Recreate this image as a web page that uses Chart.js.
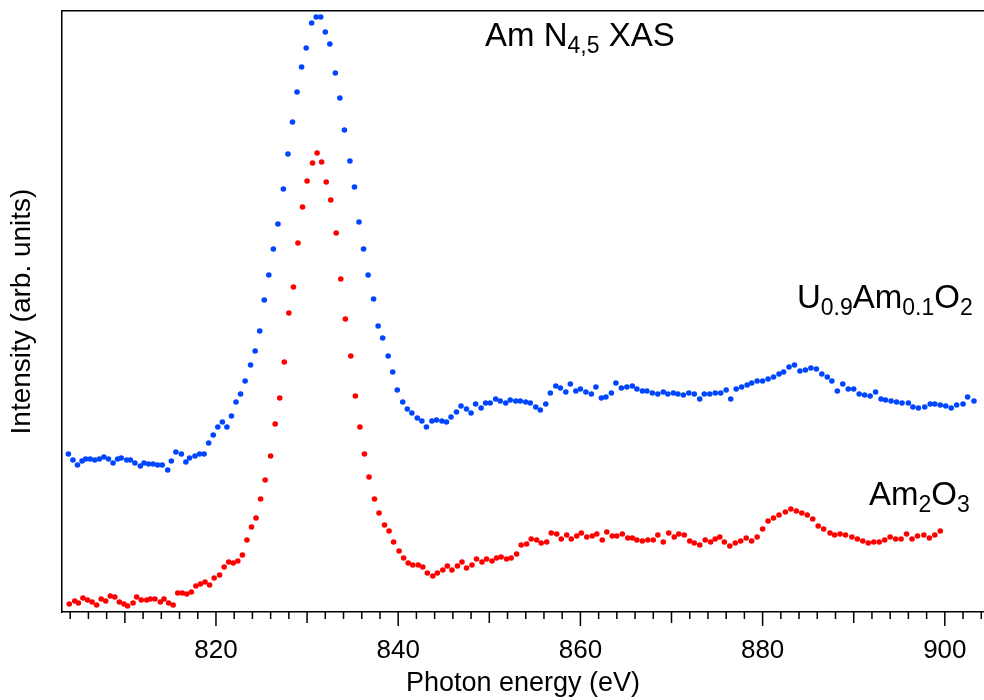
<!DOCTYPE html>
<html><head><meta charset="utf-8">
<script src="https://cdn.jsdelivr.net/npm/chart.js@4.4.1/dist/chart.umd.min.js"></script>
<style>html,body{margin:0;padding:0;background:#fff;} #c{display:block;}</style>
</head><body>
<canvas id="c" width="984" height="700"></canvas>
<script>
// ---- data ----
const blueEnergy = [
803.8,804.3,804.8,805.3,805.7,806.2,806.7,807.2,807.7,808.2,
808.7,809.2,809.6,810.2,810.6,811.1,811.7,812.1,812.6,813.1,
813.6,814.1,814.7,815.1,815.6,816.2,816.7,817.1,817.7,818.2,
818.7,819.2,819.7,820.2,820.7,821.2,821.7,822.2,822.7,823.2,
823.8,824.3,824.8,825.3,825.8,826.3,826.8,827.4,827.9,828.4,
828.9,829.4,829.9,830.5,831.0,831.5,832.0,832.5,833.1,833.6,
834.1,834.7,835.2,835.7,836.2,836.7,837.3,837.8,838.3,838.9,
839.4,839.9,840.5,841.0,841.5,842.1,842.6,843.1,843.7,844.2,
844.8,845.3,845.8,846.4,846.9,847.5,848.0,848.5,849.1,849.6,
850.1,850.7,851.2,851.8,852.3,852.9,853.4,854.0,854.5,855.1,
855.6,856.2,856.7,857.3,857.8,858.4,858.9,859.5,860.0,860.6,
861.2,861.7,862.3,862.8,863.4,863.9,864.5,865.1,865.7,866.2,
866.8,867.3,867.9,868.5,869.1,869.6,870.2,870.7,871.3,871.9,
872.5,873.1,873.6,874.2,874.8,875.4,876.0,876.5,877.1,877.7,
878.3,878.8,879.4,880.0,880.6,881.2,881.8,882.3,882.9,883.5,
884.1,884.7,885.3,885.9,886.5,887.1,887.6,888.2,888.8,889.4,
890.0,890.6,891.2,891.8,892.4,893.0,893.5,894.1,894.7,895.3,
896.0,896.5,897.1,897.8,898.4,898.9,899.5,900.1,900.7,901.3,
902.0,902.5,903.2];
const blueIntensity = [
1.58,1.52,1.47,1.51,1.53,1.53,1.52,1.53,1.55,1.53,
1.49,1.53,1.54,1.52,1.52,1.49,1.46,1.49,1.48,1.48,
1.47,1.47,1.42,1.51,1.60,1.58,1.50,1.54,1.56,1.58,
1.58,1.69,1.77,1.85,1.90,1.85,1.96,2.10,2.18,2.31,
2.47,2.61,2.81,3.12,3.37,3.63,3.88,4.23,4.58,4.90,
5.20,5.45,5.64,5.89,5.95,5.95,5.80,5.68,5.39,5.14,
4.82,4.51,4.25,3.90,3.63,3.37,3.13,2.86,2.74,2.56,
2.40,2.22,2.10,2.03,1.99,1.94,1.91,1.85,1.91,1.92,
1.91,1.90,1.95,2.00,2.06,2.03,1.99,2.08,2.04,2.09,
2.09,2.13,2.11,2.09,2.12,2.11,2.11,2.10,2.09,2.05,
2.02,2.08,2.19,2.26,2.24,2.20,2.28,2.21,2.23,2.20,
2.18,2.25,2.14,2.15,2.19,2.29,2.24,2.25,2.26,2.23,
2.21,2.21,2.19,2.18,2.20,2.18,2.19,2.18,2.17,2.19,
2.18,2.13,2.18,2.18,2.19,2.19,2.22,2.13,2.23,2.25,
2.27,2.29,2.31,2.31,2.33,2.35,2.38,2.40,2.45,2.47,
2.41,2.42,2.44,2.43,2.38,2.35,2.31,2.21,2.28,2.23,
2.23,2.18,2.17,2.16,2.20,2.13,2.12,2.11,2.10,2.09,
2.09,2.05,2.04,2.05,2.08,2.08,2.07,2.06,2.04,2.07,
2.08,2.15,2.11];
const redEnergy = [
803.9,804.5,804.9,805.4,805.9,806.4,806.9,807.4,807.9,808.4,
808.9,809.4,809.9,810.3,810.9,811.3,811.8,812.4,812.8,813.3,
813.9,814.3,814.8,815.3,815.8,816.3,816.8,817.3,817.8,818.3,
818.8,819.3,819.8,820.4,820.9,821.4,821.9,822.4,822.9,823.4,
823.9,824.4,824.9,825.4,826.0,826.5,827.0,827.5,828.0,828.5,
829.0,829.5,830.0,830.6,831.1,831.6,832.1,832.6,833.2,833.7,
834.2,834.8,835.3,835.8,836.3,836.8,837.4,837.9,838.5,839.0,
839.5,840.1,840.6,841.1,841.6,842.2,842.7,843.2,843.8,844.3,
844.9,845.4,845.9,846.5,847.0,847.5,848.1,848.6,849.2,849.7,
850.3,850.8,851.3,851.9,852.4,853.0,853.5,854.1,854.6,855.2,
855.7,856.3,856.8,857.4,857.9,858.5,859.0,859.6,860.1,860.7,
861.3,861.8,862.4,862.9,863.5,864.0,864.6,865.2,865.7,866.2,
866.8,867.4,868.0,868.5,869.1,869.7,870.3,870.8,871.4,872.0,
872.5,873.1,873.7,874.3,874.8,875.3,875.8,876.4,877.0,877.6,
878.2,878.8,879.4,880.0,880.6,881.2,881.8,882.5,883.1,883.7,
884.3,884.9,885.5,886.1,886.7,887.4,887.9,888.5,889.1,889.8,
890.4,891.0,891.6,892.2,892.8,893.4,894.0,894.6,895.2,895.8,
896.4,897.0,897.7,898.3,898.9,899.5];
const redIntensity = [
0.08,0.11,0.09,0.14,0.12,0.10,0.07,0.13,0.11,0.16,
0.15,0.10,0.08,0.06,0.09,0.15,0.12,0.12,0.13,0.13,
0.10,0.13,0.09,0.07,0.19,0.19,0.18,0.20,0.26,0.28,
0.30,0.27,0.34,0.37,0.45,0.50,0.49,0.51,0.57,0.72,
0.85,0.94,1.13,1.32,1.56,1.88,2.14,2.50,2.99,3.25,
3.69,4.05,4.31,4.49,4.59,4.50,4.30,4.12,3.79,3.33,
2.93,2.56,2.16,1.85,1.58,1.35,1.13,0.99,0.87,0.81,
0.70,0.61,0.54,0.49,0.47,0.47,0.45,0.39,0.36,0.39,
0.42,0.46,0.42,0.46,0.50,0.44,0.47,0.53,0.50,0.53,
0.51,0.54,0.55,0.53,0.54,0.58,0.67,0.68,0.73,0.72,
0.69,0.70,0.79,0.78,0.73,0.77,0.73,0.76,0.79,0.75,
0.76,0.78,0.72,0.80,0.76,0.76,0.78,0.74,0.74,0.72,
0.71,0.72,0.72,0.77,0.70,0.79,0.75,0.78,0.77,0.71,
0.69,0.67,0.72,0.70,0.73,0.75,0.70,0.66,0.69,0.71,
0.74,0.71,0.75,0.83,0.91,0.94,0.97,1.00,1.03,1.01,
0.99,0.97,0.93,0.86,0.83,0.79,0.77,0.78,0.77,0.75,
0.73,0.71,0.69,0.70,0.70,0.72,0.75,0.73,0.73,0.78,
0.73,0.76,0.77,0.74,0.77,0.81];
const xTickLabels = [820, 840, 860, 880, 900];
const xTickMarks = [804,806,808,810,812,814,816,818,820,822,824,826,828,830,832,834,836,838,840,
  842,844,846,848,850,852,854,856,858,860,862,864,866,868,870,872,874,876,878,880,
  882,884,886,888,890,892,894,896,898,900,902,904];
const seriesNames = ['U0.9Am0.1O2', 'Am2O3'];

// ---- styles ----
const FONT = '"Liberation Sans", Arial, Helvetica, sans-serif';
const BLUE = '#0046ff';
const RED = '#ff0000';

function toPoints(xs, ys) { return xs.map((x, i) => ({ x: x, y: ys[i] })); }

// tick marks of three lengths along the bottom axis, placed through the x scale
const tickMarksPlugin = {
  id: 'tickMarks',
  afterDraw(chart) {
    const s = chart.scales.x, ctx = chart.ctx, y0 = chart.chartArea.bottom;
    ctx.save();
    ctx.strokeStyle = '#000';
    ctx.lineWidth = 1.5;
    xTickMarks.forEach(v => {
      const px = s.getPixelForValue(v);
      const len = (v % 20 === 0) ? 14 : (v % 10 === 0 ? 11 : 7);
      ctx.beginPath();
      ctx.moveTo(px, y0);
      ctx.lineTo(px, y0 + len);
      ctx.stroke();
    });
    ctx.restore();
  }
};

// text labels with subscripts
function drawRich(ctx, parts, x, y, size, subSize, subDrop) {
  let cx = x;
  parts.forEach(p => {
    ctx.font = (p.sub ? subSize : size) + 'px ' + FONT;
    ctx.fillText(p.t, cx, p.sub ? y + subDrop : y);
    cx += ctx.measureText(p.t).width;
  });
}
const labelsPlugin = {
  id: 'labels',
  afterDraw(chart) {
    const ctx = chart.ctx, a = chart.chartArea;
    ctx.save();
    ctx.fillStyle = '#000';
    ctx.textBaseline = 'alphabetic';
    ctx.textAlign = 'left';
    drawRich(ctx, [{t:'Am N'},{t:'4,5',sub:true},{t:' XAS'}], a.left + 423, a.top + 35, 33, 23, 7);
    drawRich(ctx, [{t:'U'},{t:'0.9',sub:true},{t:'Am'},{t:'0.1',sub:true},{t:'O'},{t:'2',sub:true}], a.left + 735, a.top + 297, 33, 23, 7);
    drawRich(ctx, [{t:'Am'},{t:'2',sub:true},{t:'O'},{t:'3',sub:true}], a.left + 807, a.top + 494, 33, 23, 7);
    ctx.restore();
  }
};

new Chart(document.getElementById('c'), {
  type: 'scatter',
  data: {
    datasets: [
      { label: seriesNames[0], data: toPoints(blueEnergy, blueIntensity), backgroundColor: BLUE, borderColor: BLUE,
        pointRadius: 2.8, pointHoverRadius: 2.8, pointBorderWidth: 0, showLine: false },
      { label: seriesNames[1], data: toPoints(redEnergy, redIntensity), backgroundColor: RED, borderColor: RED,
        pointRadius: 2.8, pointHoverRadius: 2.8, pointBorderWidth: 0, showLine: false }
    ]
  },
  options: {
    responsive: false,
    animation: false,
    layout: { autoPadding: false, padding: { top: 11, left: 0, right: 0, bottom: 0 } },
    plugins: { legend: { display: false }, tooltip: { enabled: false } },
    scales: {
      x: {
        type: 'linear', position: 'bottom', min: 803.1, max: 904.3,
        afterBuildTicks: s => { s.ticks = xTickMarks.map(v => ({ value: v })); },
        afterFit: s => { s.height = 88; s.paddingLeft = 0; s.paddingRight = 0; },
        ticks: {
          autoSkip: false, maxRotation: 0, minRotation: 0, padding: 23, color: '#000',
          font: { family: FONT, size: 26 },
          callback: v => xTickLabels.includes(v) ? String(v) : ''
        },
        grid: { display: false, drawTicks: false },
        border: { display: true, color: '#000', width: 1.5 },
        title: { display: true, text: 'Photon energy (eV)', color: '#000',
          font: { family: FONT, size: 27 }, padding: { top: 0, bottom: 0 } }
      },
      xTop: {
        type: 'linear', position: 'top', display: true,
        afterFit: s => { s.height = 0; s.paddingLeft = 0; s.paddingRight = 0; },
        ticks: { display: false, padding: 0 },
        grid: { display: false, drawTicks: false },
        border: { display: true, color: '#000', width: 1.5 }
      },
      y: {
        type: 'linear', position: 'left', min: 0, max: 6.01,
        afterFit: s => { s.width = 62; s.paddingTop = 0; s.paddingBottom = 0; },
        ticks: { display: false, padding: 0 },
        grid: { display: false, drawTicks: false },
        border: { display: true, color: '#000', width: 1.5 },
        title: { display: true, text: 'Intensity (arb. units)', color: '#000',
          font: { family: FONT, size: 28 }, padding: { top: 5, bottom: 0 } }
      }
    }
  },
  plugins: [tickMarksPlugin, labelsPlugin]
});
</script>
</body></html>
